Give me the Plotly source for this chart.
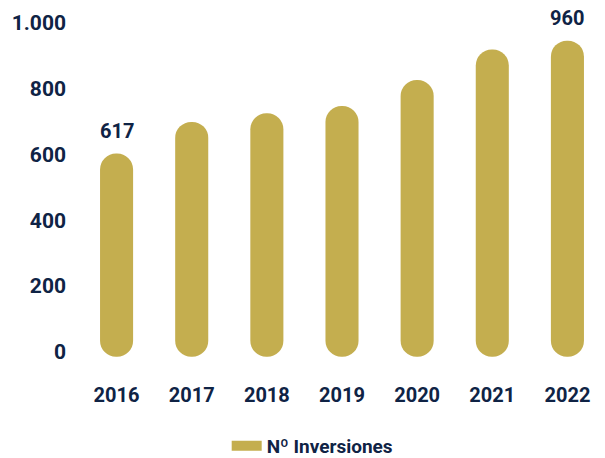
import plotly.graph_objects as go

years = ["2016", "2017", "2018", "2019", "2020", "2021", "2022"]
inversiones = [617, 713, 739, 761, 840, 933, 960]
y_ticks = [0, 200, 400, 600, 800, 1000]
y_tick_labels = ["0", "200", "400", "600", "800", "1.000"]
series_name = "Nº Inversiones"

GOLD = "#C4AE4F"
NAVY = "#0F2345"
FONT = "Roboto"

# style constants for the pill shaped bars (drawn slightly below the value line as in the source)
TOP_OFFSET = 14
BOTTOM = -15

fig = go.Figure()
fig.add_trace(go.Bar(
    x=years, y=[v - TOP_OFFSET - BOTTOM for v in inversiones], base=[BOTTOM] * len(years),
    marker=dict(color=GOLD, cornerradius="50%", line=dict(width=0)),
    showlegend=False, hoverinfo="skip",
))
# legend entry
fig.add_trace(go.Scatter(
    x=[years[0]], y=[None], mode="lines", name=series_name,
    line=dict(color=GOLD, width=16),
))

for i in (0, len(years) - 1):
    fig.add_annotation(
        x=i, y=inversiones[i], text=str(inversiones[i]),
        showarrow=False, yanchor="bottom", yshift=4,
        font=dict(family=FONT, size=20, color=NAVY, weight="bold"),
    )

fig.update_layout(
    width=605, height=458,
    margin=dict(l=79, r=0, t=13, b=93),
    paper_bgcolor="white", plot_bgcolor="white",
    bargap=0.56,
    font=dict(family=FONT, color=NAVY),
    xaxis=dict(
        type="category", categoryorder="array", categoryarray=years,
        range=[-0.5, len(years) - 0.5],
        showgrid=False, zeroline=False, showline=False,
        ticks="", ticklabelstandoff=16,
        tickfont=dict(family=FONT, size=20, color=NAVY, weight="bold"),
    ),
    yaxis=dict(
        range=[-40, 1030], showgrid=False, zeroline=False, showline=False,
        tickmode="array", tickvals=y_ticks, ticktext=y_tick_labels,
        ticks="", ticklabelstandoff=12,
        tickfont=dict(family=FONT, size=21, color=NAVY, weight="bold"),
    ),
    legend=dict(
        orientation="h", xref="container", yref="container",
        x=0.3747, xanchor="left", y=0.0262, yanchor="middle",
        font=dict(family=FONT, size=19, color=NAVY, weight="bold"),
    ),
)

fig.write_html("out.html")
